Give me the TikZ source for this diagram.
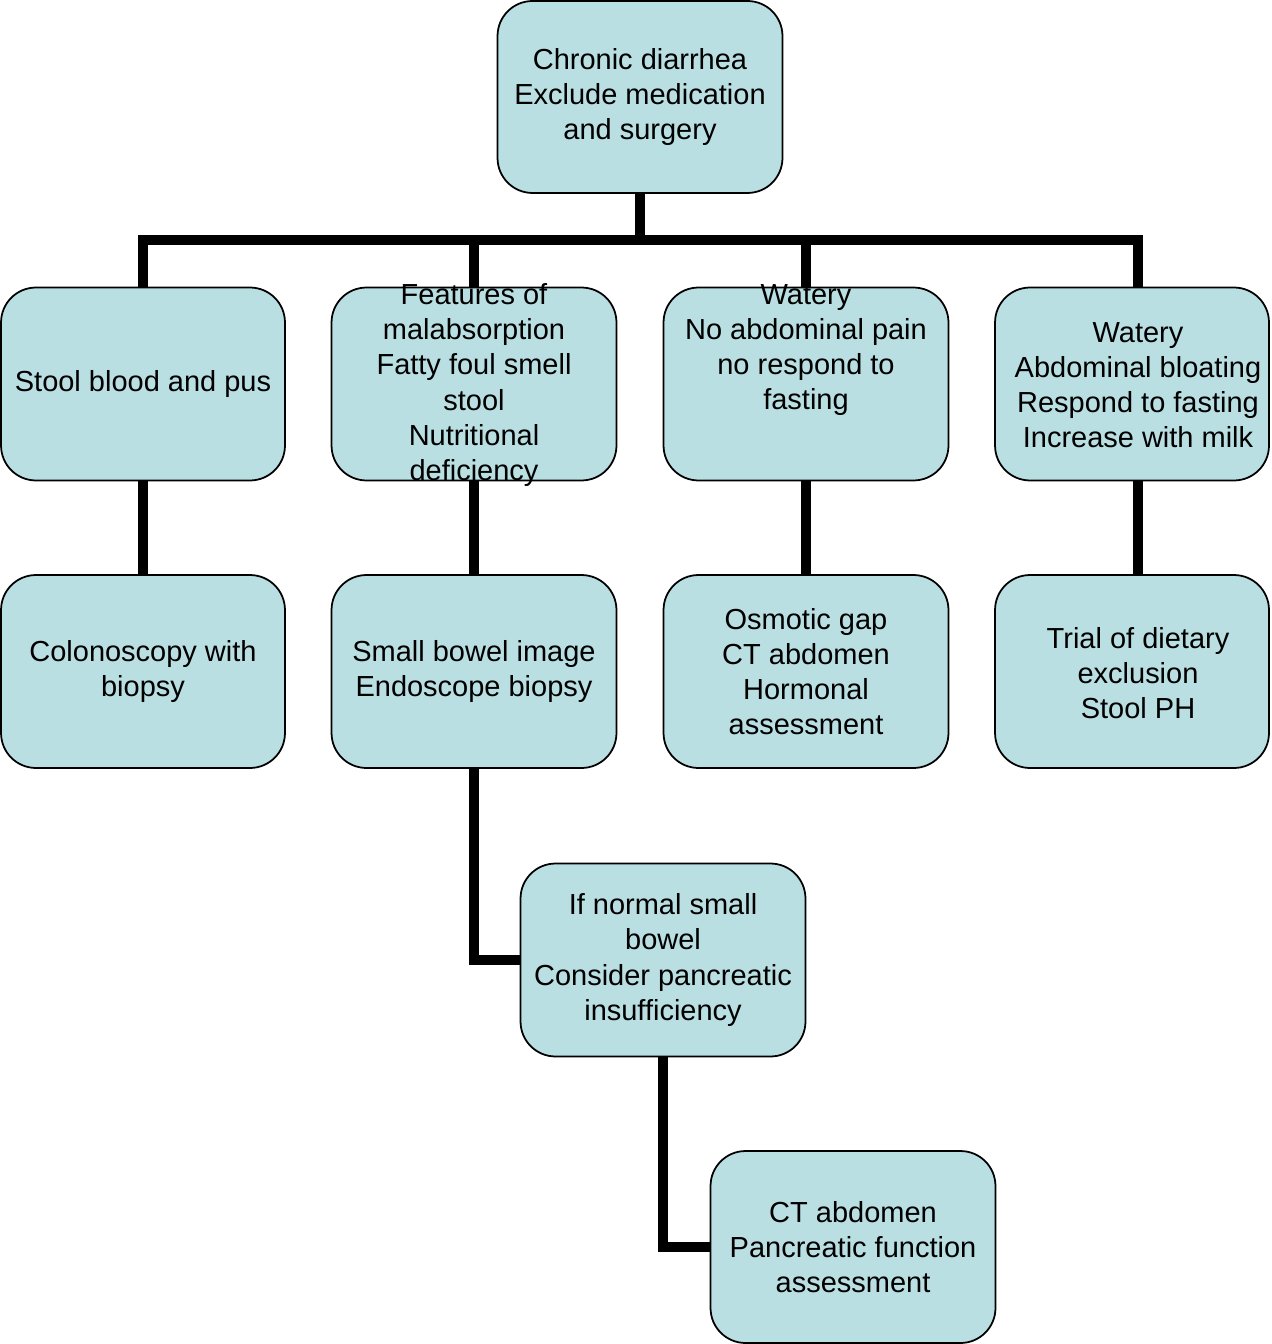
\documentclass[tikz,border=0pt]{standalone}
\usepackage{fontspec}
\setmainfont{Liberation Sans}
\usepackage{tikz}
\usetikzlibrary{backgrounds}
\definecolor{boxfill}{RGB}{185,223,226}
\tikzset{
        box/.style={draw=black, line width=1pt, fill=boxfill, rounded corners=0.7cm,
                    minimum width=5.7cm, minimum height=3.86cm, inner sep=0pt, align=center,
                    font=\fontsize{16.5}{20}\selectfont},
        txt/.style={inner sep=0pt, align=center, font=\fontsize{16.5}{20}\selectfont},
        conn/.style={line width=6.2pt, black}
    }

\begin{document}
\begin{tikzpicture}[x=0.02cm,y=-0.02cm]

\useasboundingbox (0,0) rectangle (1271,1344);

\draw (640,97) node(TOP)[box,minimum height=3.84cm]{Chronic diarrhea\\Exclude medication\\and surgery};

\draw (143,384) node(STOOL)[box,minimum width=5.68cm]{Stool blood and pus};
\draw (474,384) node(MAL)[box]{};
\draw (474,385) node(MALT)[txt]{Features of\\malabsorption\\Fatty foul smell\\stool\\Nutritional\\deficiency};
\draw (806,384) node(WAT)[box]{};
\draw (806,350) node(WATT)[txt]{Watery\\No abdominal pain\\no respond to\\fasting};
\draw (1132,384) node(MILK)[box,minimum width=5.48cm]{};
\draw (1138,385) node(MILKT)[txt]{Watery\\Abdominal bloating\\Respond to fasting\\Increase with milk};

\draw (143,671.5) node(COLON)[box,minimum width=5.68cm]{Colonoscopy with\\biopsy};
\draw (474,671.5) node(SBI)[box]{Small bowel image\\Endoscope biopsy};
\draw (806,671.5) node(OSM)[box]{Osmotic gap\\CT abdomen\\Hormonal\\assessment};
\draw (1132,671.5) node(DIET)[box,minimum width=5.48cm]{};
\draw (1138,673) node(DIETT)[txt]{Trial of dietary\\exclusion\\Stool PH};

\draw (663,960) node(NORM)[box]{If normal small\\bowel\\Consider pancreatic\\insufficiency};
\draw (853,1247) node(CTPF)[box,minimum height=3.84cm]{CT abdomen\\Pancreatic function\\assessment};

\coordinate (BUS) at (640,240);

\begin{scope}[on background layer]
\draw[conn] (TOP.south) -- (BUS);
\draw[conn] (BUS) -| (STOOL.north);
\draw[conn] (BUS) -| (MAL.north);
\draw[conn] (BUS) -| (WAT.north);
\draw[conn] (BUS) -| ([xshift=0.12cm]MILK.north);

\draw[conn] (STOOL.south) -- (COLON.north);
\draw[conn] (MAL.south) -- (SBI.north);
\draw[conn] (WAT.south) -- (OSM.north);
\draw[conn] ([xshift=0.12cm]MILK.south) -- ([xshift=0.12cm]DIET.north);

\draw[conn] (SBI.south) |- (NORM.west);
\draw[conn] (NORM.south) |- (CTPF.west);
\end{scope}

\end{tikzpicture}
\end{document}
